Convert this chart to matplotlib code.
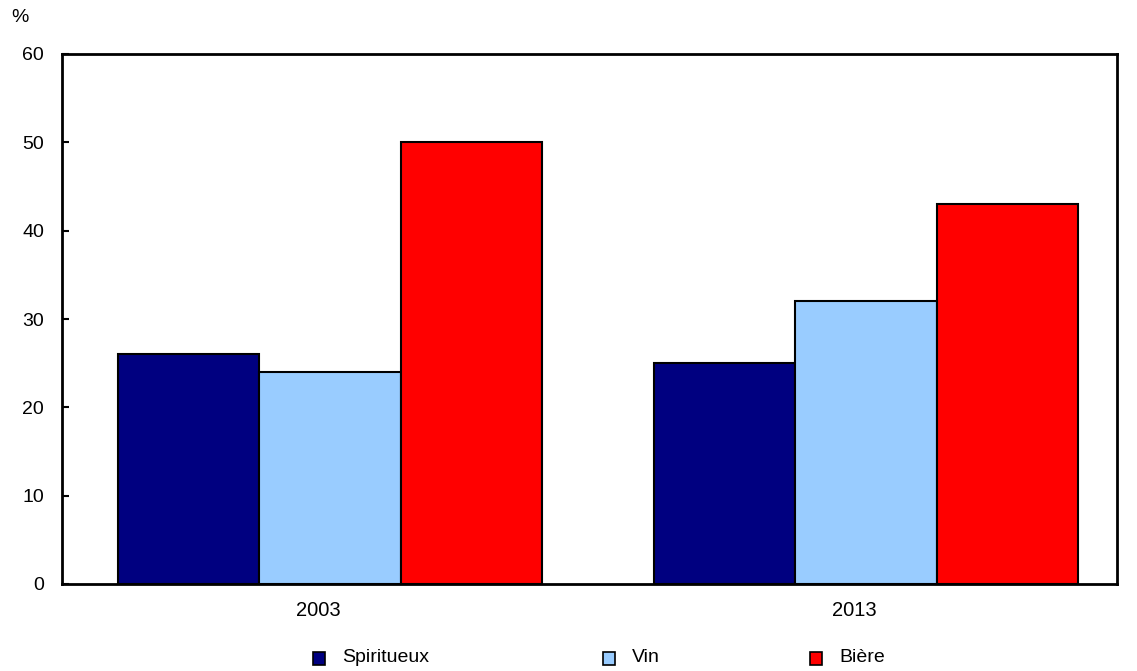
import matplotlib.pyplot as plt
from matplotlib.patches import Rectangle
import numpy as np

plt.rcParams['font.family'] = ['Liberation Sans', 'DejaVu Sans']

# Data
years = ['2003', '2013']
series = ['Spiritueux', 'Vin', 'Bière']
spiritueux = [26, 25]
vin = [24, 32]
biere = [50, 43]
values = [spiritueux, vin, biere]
colors = ['#000080', '#99CCFF', '#FF0000']

W, H = 1137, 671
fig = plt.figure(figsize=(W / 100, H / 100), dpi=100)
ax = fig.add_axes([62 / W, 1 - 584 / H, (1117 - 62) / W, (584 - 54) / H])

x = np.arange(len(years))
bw = 0.264
for i, (vals, c) in enumerate(zip(values, colors)):
    ax.bar(x + (i - 1) * bw, vals, bw, color=c, edgecolor='black', linewidth=1.5, zorder=2)

ax.set_xlim(-0.5, 1.468)
ax.set_ylim(0, 60)
ax.set_yticks(range(0, 61, 10))
# labels sit a little left of the group centres in the original
ax.set_xticks(x - 0.022)
ax.set_xticklabels(years)
ax.tick_params(axis='y', direction='in', length=5, width=1.5, labelsize=14, pad=13)
ax.tick_params(axis='x', length=0, labelsize=14.5, pad=12)
for s in ax.spines.values():
    s.set_linewidth(2)

fig.text(11 / W, 1 - 18 / H, '%', fontsize=14, ha='left', va='center')

# Legend drawn by hand to match spacing
leg_x = [313, 603, 810]
for xp, name, c in zip(leg_x, series, colors):
    fig.patches.append(Rectangle((xp / W, 1 - 665 / H), 12 / W, 13 / H, transform=fig.transFigure,
                                 facecolor=c, edgecolor='black', linewidth=1.2))
    fig.text((xp + 29) / W, 1 - 658 / H, name, fontsize=14, ha='left', va='center')

fig.savefig('out.png', dpi=100, facecolor='white')
